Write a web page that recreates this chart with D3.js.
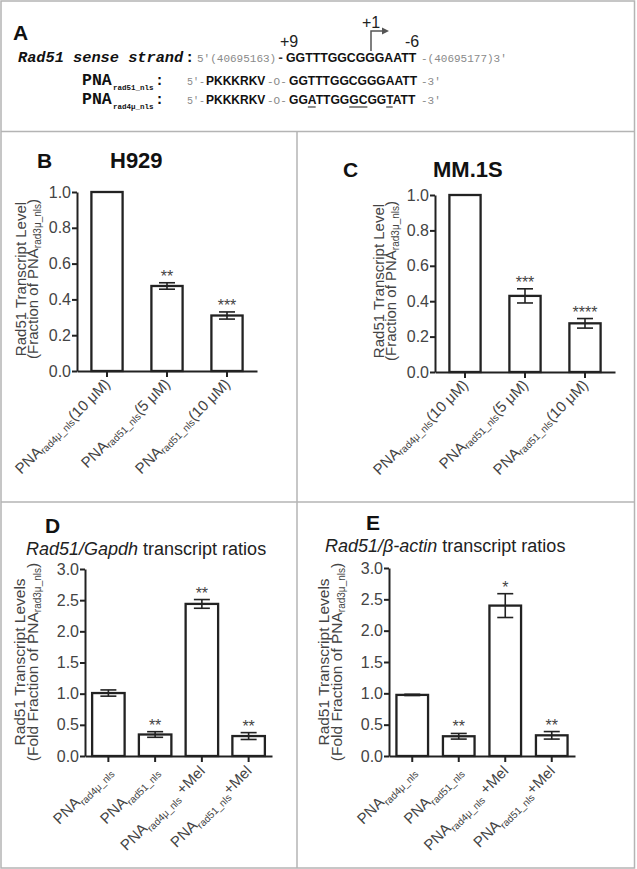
<!DOCTYPE html>
<html>
<head>
<meta charset="utf-8">
<script src="https://cdn.jsdelivr.net/npm/d3@7"></script>
<style>
  html, body { margin: 0; padding: 0; background: #fff; }
  svg { display: block; }
</style>
</head>
<body>
<svg id="chart" width="637" height="869" font-family="Liberation Sans, Arial, sans-serif"></svg>
<script>
// ---------------- DATA ----------------
// Panel B (H929)
const catsB = [["PNA", "rad4μ_nls", "(10 μM)"], ["PNA", "rad51_nls", "(5 μM)"], ["PNA", "rad51_nls", "(10 μM)"]];
const valuesB = [1.0, 0.475, 0.31];
const errorsB = [0, 0.018, 0.02];
const starsB = ["", "**", "***"];
// Panel C (MM.1S)
const catsC = [["PNA", "rad4μ_nls", "(10 μM)"], ["PNA", "rad51_nls", "(5 μM)"], ["PNA", "rad51_nls", "(10 μM)"]];
const valuesC = [1.0, 0.43, 0.275];
const errorsC = [0, 0.04, 0.027];
const starsC = ["", "***", "****"];
// Panel D (Rad51/Gapdh)
const catsD = [["PNA", "rad4μ_nls", ""], ["PNA", "rad51_nls", ""], ["PNA", "rad4μ_nls", " +Mel"], ["PNA", "rad51_nls", "+Mel"]];
const valuesD = [1.01, 0.345, 2.44, 0.32];
const errorsD = [0.05, 0.045, 0.07, 0.055];
const starsD = ["", "**", "**", "**"];
// Panel E (Rad51/beta-actin)
const catsE = [["PNA", "rad4μ_nls", ""], ["PNA", "rad51_nls", ""], ["PNA", "rad4μ_nls", " +Mel"], ["PNA", "rad51_nls", "+Mel"]];
const valuesE = [0.975, 0.315, 2.40, 0.33];
const errorsE = [0.01, 0.045, 0.19, 0.06];
const starsE = ["", "**", "*", "**"];
// Tick values
const ticksBC = [0, 0.2, 0.4, 0.6, 0.8, 1.0];
const ticksDE = [0, 0.5, 1.0, 1.5, 2.0, 2.5, 3.0];

// ---------------- DRAW ----------------
const sans = "Liberation Sans, Arial, sans-serif";
const mono = "Liberation Mono, Courier New, monospace";
const svg = d3.select("#chart");
svg.append("rect").attr("width", 637).attr("height", 869).attr("fill", "#fff");

// panel frame lines
const frame = svg.append("g").attr("stroke", "#b4b4b4").attr("stroke-width", 1.5).attr("fill", "none");
frame.append("rect").attr("x", 1).attr("y", 1).attr("width", 633.5).attr("height", 867);
frame.append("line").attr("x1", 1).attr("x2", 634.5).attr("y1", 131.5).attr("y2", 131.5);
frame.append("line").attr("x1", 1).attr("x2", 634.5).attr("y1", 502).attr("y2", 502);
frame.append("line").attr("x1", 297).attr("x2", 297).attr("y1", 131.5).attr("y2", 868);

function drawPanel(cfg) {
  const g = svg.append("g");
  const x = d3.scaleBand().domain(d3.range(cfg.values.length))
    .range(cfg.xRange).paddingInner(cfg.pad).paddingOuter(cfg.pad / 2);
  const y = d3.scaleLinear().domain([0, cfg.yMax]).range(cfg.yRange);

  // bars
  g.selectAll("rect.bar").data(cfg.values).join("rect")
    .attr("class", "bar")
    .attr("x", (d, i) => x(i))
    .attr("width", x.bandwidth())
    .attr("y", d => y(d))
    .attr("height", d => y(0) - y(d))
    .attr("fill", "#fff").attr("stroke", "#222").attr("stroke-width", 2.3);

  // error bars
  const eg = g.append("g").attr("stroke", "#222").attr("stroke-width", 1.6);
  cfg.values.forEach((v, i) => {
    const e = cfg.errors[i];
    if (!e) return;
    const cx = x(i) + x.bandwidth() / 2;
    const cap = 8;
    eg.append("line").attr("x1", cx).attr("x2", cx).attr("y1", y(v + e)).attr("y2", y(v - e));
    eg.append("line").attr("x1", cx - cap).attr("x2", cx + cap).attr("y1", y(v + e)).attr("y2", y(v + e));
    eg.append("line").attr("x1", cx - cap).attr("x2", cx + cap).attr("y1", y(v - e)).attr("y2", y(v - e));
  });

  // stars
  g.selectAll("text.star").data(cfg.stars).join("text")
    .attr("class", "star")
    .attr("x", (d, i) => x(i) + x.bandwidth() / 2)
    .attr("y", (d, i) => y(cfg.values[i] + cfg.errors[i]) - 1)
    .attr("text-anchor", "middle").attr("font-size", 16).attr("fill", "#444")
    .text(d => d);

  // y axis
  const ya = g.append("g").attr("transform", `translate(${cfg.xRange[0]},0)`)
    .call(d3.axisLeft(y).tickValues(cfg.ticks).tickFormat(d3.format(".1f")).tickSize(5).tickSizeOuter(0).tickPadding(1));
  ya.select(".domain").attr("stroke", "#222").attr("stroke-width", 2);
  ya.selectAll(".tick line").attr("stroke", "#222").attr("stroke-width", 2);
  ya.selectAll(".tick text").attr("font-size", 16).attr("fill", "#444").attr("font-family", sans);

  // x axis
  const xa = g.append("g").attr("transform", `translate(0,${y(0)})`)
    .call(d3.axisBottom(x).tickSize(6).tickSizeOuter(0).tickFormat(""));
  xa.select(".domain").attr("stroke", "#222").attr("stroke-width", 2);
  xa.selectAll(".tick line").attr("stroke", "#222").attr("stroke-width", 2);
  xa.selectAll(".tick text").remove();

  // rotated category labels
  cfg.cats.forEach((c, i) => {
    const cx = x(i) + x.bandwidth() / 2;
    const t = g.append("text")
      .attr("transform", `translate(${cx + cfg.labDx},${y(0) + cfg.labDy}) rotate(-45)`)
      .attr("text-anchor", "end").attr("fill", "#444").attr("font-size", 15);
    t.append("tspan").text(c[0]);
    t.append("tspan").attr("font-size", 10).attr("dy", cfg.subDy).text(c[1]);
    if (c[2]) t.append("tspan").attr("dy", -cfg.subDy).text(c[2]);
  });

  // y-axis title (two lines, rotated)
  const cy = cfg.yLabCy;
  g.append("text").attr("transform", `translate(${cfg.xRange[0] - cfg.yLab1},${cy}) rotate(-90)`)
    .attr("text-anchor", "middle").attr("font-size", cfg.yLabSize).attr("fill", "#444").text(cfg.yLabel1);
  const l2 = g.append("text").attr("transform", `translate(${cfg.xRange[0] - cfg.yLab2},${cy}) rotate(-90)`)
    .attr("text-anchor", "middle").attr("font-size", cfg.yLabSize).attr("fill", "#444");
  l2.append("tspan").text(cfg.yLabel2[0]);
  l2.append("tspan").attr("font-size", 10).attr("dy", 3).text(cfg.yLabel2[1]);
  l2.append("tspan").attr("dy", -3).text(cfg.yLabel2[2]);
  return g;
}

drawPanel({
  cats: catsB, values: valuesB, errors: errorsB, stars: starsB, ticks: ticksBC, yMax: 1,
  xRange: [77, 257], yRange: [371, 192], pad: 0.48, labDx: 4, labDy: 14, subDy: 2,
  yLabCy: 279, yLab1: 51, yLab2: 39, yLabSize: 15,
  yLabel1: "Rad51 Transcript Level", yLabel2: ["(Fraction of PNA", "rad3μ_nls", ")"]
});
drawPanel({
  cats: catsC, values: valuesC, errors: errorsC, stars: starsC, ticks: ticksBC, yMax: 1,
  xRange: [435, 615], yRange: [372, 195], pad: 0.48, labDx: 4, labDy: 14, subDy: 2,
  yLabCy: 281, yLab1: 51, yLab2: 39, yLabSize: 15,
  yLabel1: "Rad51 Transcript Level", yLabel2: ["(Fraction of PNA", "rad3μ_nls", ")"]
});
drawPanel({
  cats: catsD, values: valuesD, errors: errorsD, stars: starsD, ticks: ticksDE, yMax: 3,
  xRange: [85, 272], yRange: [756, 569], pad: 0.305, labDx: 4, labDy: 16, subDy: 4,
  yLabCy: 662, yLab1: 60, yLab2: 47, yLabSize: 15.5,
  yLabel1: "Rad51 Transcript Levels", yLabel2: ["(Fold Fraction of PNA", "rad3μ_nls", ")"]
});
drawPanel({
  cats: catsE, values: valuesE, errors: errorsE, stars: starsE, ticks: ticksDE, yMax: 3,
  xRange: [389, 575], yRange: [756, 568], pad: 0.32, labDx: 4, labDy: 16, subDy: 4,
  yLabCy: 662, yLab1: 60, yLab2: 47, yLabSize: 15.5,
  yLabel1: "Rad51 Transcript Levels", yLabel2: ["(Fold Fraction of PNA", "rad3μ_nls", ")"]
});

// panel letters and titles
function bold(x, y, s, size) {
  return svg.append("text").attr("x", x).attr("y", y).attr("font-size", size)
    .attr("font-weight", "bold").attr("fill", "#111").text(s);
}
bold(13, 40, "A", 21);
bold(37, 168, "B", 21);
bold(110, 168, "H929", 22);
bold(343, 177, "C", 21);
bold(433, 177, "MM.1S", 22);
bold(45, 533, "D", 21);
bold(366, 530, "E", 21);

const tD = svg.append("text").attr("x", 26).attr("y", 555).attr("font-size", 18).attr("fill", "#222");
tD.append("tspan").attr("font-style", "italic").text("Rad51/Gapdh");
tD.append("tspan").text(" transcript ratios");
const tE = svg.append("text").attr("x", 325).attr("y", 552).attr("font-size", 18).attr("fill", "#222");
tE.append("tspan").attr("font-style", "italic").text("Rad51/β-actin");
tE.append("tspan").text(" transcript ratios");

// ---------------- PANEL A (sequence) ----------------
function txt(x, y, s, o) {
  const t = svg.append("text").attr("x", x).attr("y", y).text(s)
    .attr("font-family", o.font || sans).attr("font-size", o.size)
    .attr("fill", o.fill || "#111");
  if (o.bold) t.attr("font-weight", "bold");
  if (o.italic) t.attr("font-style", "italic");
  return t;
}
// line 1
txt(18, 62, "Rad51 sense strand", { font: mono, size: 15.3, bold: true, italic: true });
txt(185, 62, ":", { font: mono, size: 15.5, bold: true });
txt(197, 62, "5′(40695163)", { font: mono, size: 11, fill: "#8a8a8a" });
txt(277, 62, "-", { font: mono, size: 12, bold: true, fill: "#333" });
txt(286, 62, "GGTTTGGCGGGAATT", { size: 12.3, bold: true });
txt(421, 62, "-(40695177)3′", { font: mono, size: 11, fill: "#8a8a8a" });
txt(280, 47, "+9", { size: 16, fill: "#222" });
txt(405, 47, "-6", { size: 16, fill: "#222" });
txt(362, 28, "+1", { size: 16, fill: "#222" });
svg.append("path").attr("d", "M371,51 V31 H383").attr("fill", "none").attr("stroke", "#555").attr("stroke-width", 1.5);
svg.append("path").attr("d", "M389,31 L382,27.5 L382,34.5 Z").attr("fill", "#555");

// lines 2 and 3
const pnaRows = [
  { y: 85, sub: "rad51_nls", seq: "GGTTTGGCGGGAATT", under: [] },
  { y: 104, sub: "rad4μ_nls", seq: "GGATTGGGCGGTATT", under: [[2, 2], [7, 8], [11, 11]] }
];
pnaRows.forEach(r => {
  txt(82, r.y, "PNA", { font: mono, size: 16.5, bold: true });
  txt(113, r.y + 5, r.sub, { font: mono, size: 7.5, bold: true });
  txt(155, r.y, ":", { font: mono, size: 15, bold: true });
  txt(187, r.y, "5′-", { font: mono, size: 10, fill: "#8a8a8a" });
  txt(206, r.y, "PKKKRKV", { size: 12, bold: true });
  txt(267, r.y, "-O-", { font: mono, size: 11, fill: "#8a8a8a" });
  const s = txt(289, r.y, r.seq, { size: 12.1, bold: true });
  txt(421, r.y, "-3′", { font: mono, size: 11, fill: "#8a8a8a" });
  const node = s.node();
  r.under.forEach(([a, b]) => {
    const x1 = node.getStartPositionOfChar(a).x;
    const x2 = node.getEndPositionOfChar(b).x;
    svg.append("line").attr("x1", x1).attr("x2", x2).attr("y1", r.y + 3).attr("y2", r.y + 3)
      .attr("stroke", "#666").attr("stroke-width", 1.5);
  });
});
</script>
</body>
</html>
